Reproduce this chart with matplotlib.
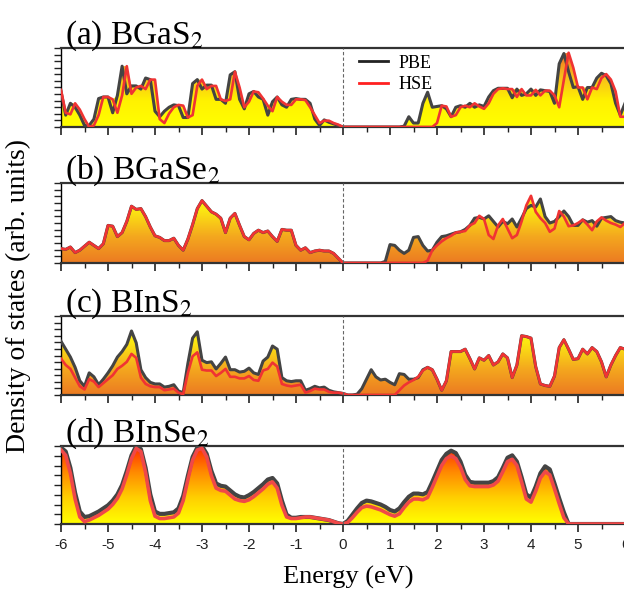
import matplotlib
matplotlib.use("Agg")
import matplotlib.pyplot as plt
from matplotlib.colors import LinearSegmentedColormap
import numpy as np


# energy grid (eV), one value every 0.1 eV from -6 to 6
energy = np.round(np.arange(-6.0, 6.05, 0.1), 1)

# (a) BGaS2
bgas2_pbe = [
    0.45, 0.15, 0.30, 0.25, 0.15, 0.02, 0.02, 0.10, 0.36, 0.38,
    0.38, 0.18, 0.40, 0.77, 0.42, 0.52, 0.52, 0.48, 0.62, 0.60,
    0.20, 0.13, 0.20, 0.25, 0.28, 0.27, 0.12, 0.12, 0.55, 0.60,
    0.48, 0.53, 0.53, 0.35, 0.35, 0.30, 0.66, 0.70, 0.35, 0.23,
    0.42, 0.45, 0.38, 0.35, 0.15, 0.32, 0.38, 0.28, 0.25, 0.35,
    0.36, 0.35, 0.35, 0.30, 0.10, 0.02, 0.09, 0.06, 0.04, 0.02,
    0.00, 0.00, 0.00, 0.00, 0.00, 0.00, 0.00, 0.00, 0.00, 0.00,
    0.00, 0.00, 0.00, 0.01, 0.13, 0.05, 0.05, 0.30, 0.44, 0.25,
    0.26, 0.27, 0.23, 0.13, 0.25, 0.27, 0.25, 0.30, 0.25, 0.28,
    0.26, 0.38, 0.46, 0.49, 0.49, 0.49, 0.37, 0.48, 0.40, 0.42,
    0.48, 0.40, 0.47, 0.46, 0.45, 0.30, 0.80, 0.93, 0.70, 0.50,
    0.51, 0.35, 0.50, 0.50, 0.62, 0.68, 0.65, 0.55, 0.30, 0.15,
    0.30,
]
bgas2_hse = [
    0.47, 0.18, 0.16, 0.30, 0.22, 0.10, 0.00, 0.02, 0.15, 0.38,
    0.38, 0.35, 0.18, 0.40, 0.77, 0.42, 0.50, 0.52, 0.48, 0.60,
    0.60, 0.10, 0.05, 0.17, 0.25, 0.28, 0.27, 0.12, 0.15, 0.52,
    0.60, 0.48, 0.52, 0.52, 0.35, 0.33, 0.35, 0.70, 0.50, 0.25,
    0.32, 0.45, 0.44, 0.36, 0.27, 0.20, 0.38, 0.32, 0.28, 0.28,
    0.35, 0.35, 0.34, 0.25, 0.15, 0.05, 0.08, 0.08, 0.05, 0.03,
    0.00, 0.00, 0.00, 0.00, 0.00, 0.00, 0.00, 0.00, 0.00, 0.00,
    0.00, 0.00, 0.00, 0.00, 0.00, 0.00, 0.00, 0.00, 0.00, 0.00,
    0.05, 0.27, 0.26, 0.13, 0.15, 0.25, 0.27, 0.25, 0.30, 0.26,
    0.23, 0.30, 0.42, 0.48, 0.49, 0.48, 0.48, 0.38, 0.48, 0.40,
    0.40, 0.47, 0.40, 0.46, 0.46, 0.40, 0.25, 0.60, 0.94, 0.75,
    0.50, 0.50, 0.35, 0.50, 0.48, 0.62, 0.67, 0.60, 0.45, 0.13,
    0.13,
]

# (b) BGaSe2
bgase2_pbe = [
    0.18, 0.17, 0.20, 0.13, 0.16, 0.21, 0.26, 0.22, 0.18, 0.24,
    0.47, 0.46, 0.33, 0.38, 0.52, 0.71, 0.67, 0.68, 0.58, 0.45,
    0.34, 0.32, 0.28, 0.28, 0.31, 0.22, 0.16, 0.30, 0.48, 0.68,
    0.78, 0.71, 0.64, 0.61, 0.56, 0.38, 0.56, 0.62, 0.47, 0.33,
    0.29, 0.37, 0.41, 0.38, 0.40, 0.33, 0.27, 0.42, 0.41, 0.41,
    0.22, 0.16, 0.19, 0.13, 0.15, 0.16, 0.15, 0.15, 0.12, 0.06,
    0.00, 0.00, 0.00, 0.00, 0.00, 0.00, 0.00, 0.00, 0.00, 0.02,
    0.23, 0.22, 0.16, 0.12, 0.16, 0.32, 0.33, 0.22, 0.15, 0.16,
    0.26, 0.33, 0.34, 0.36, 0.38, 0.39, 0.42, 0.47, 0.56, 0.57,
    0.55, 0.59, 0.52, 0.45, 0.52, 0.49, 0.55, 0.45, 0.56, 0.68,
    0.72, 0.70, 0.80, 0.58, 0.50, 0.52, 0.58, 0.65, 0.58, 0.47,
    0.47, 0.54, 0.51, 0.53, 0.46, 0.56, 0.57, 0.58, 0.53, 0.51,
    0.50,
]
bgase2_hse = [
    0.18, 0.17, 0.20, 0.13, 0.16, 0.21, 0.26, 0.22, 0.18, 0.24,
    0.47, 0.46, 0.33, 0.38, 0.52, 0.71, 0.67, 0.68, 0.58, 0.45,
    0.34, 0.32, 0.28, 0.28, 0.31, 0.22, 0.16, 0.30, 0.48, 0.68,
    0.78, 0.71, 0.64, 0.61, 0.56, 0.38, 0.56, 0.62, 0.47, 0.33,
    0.29, 0.37, 0.41, 0.38, 0.40, 0.33, 0.27, 0.42, 0.41, 0.41,
    0.22, 0.16, 0.19, 0.13, 0.15, 0.16, 0.15, 0.15, 0.12, 0.06,
    0.00, 0.00, 0.00, 0.00, 0.00, 0.00, 0.00, 0.00, 0.00, 0.00,
    0.00, 0.00, 0.00, 0.00, 0.00, 0.00, 0.00, 0.00, 0.03, 0.16,
    0.22, 0.27, 0.31, 0.34, 0.38, 0.39, 0.40, 0.47, 0.50, 0.59,
    0.55, 0.35, 0.30, 0.47, 0.55, 0.43, 0.31, 0.35, 0.52, 0.72,
    0.84, 0.64, 0.56, 0.50, 0.39, 0.43, 0.65, 0.58, 0.46, 0.47,
    0.50, 0.54, 0.48, 0.41, 0.52, 0.57, 0.53, 0.50, 0.48, 0.45,
    0.50,
]

# (c) BInS2
bins2_pbe = [
    0.68, 0.58, 0.48, 0.35, 0.18, 0.11, 0.28, 0.23, 0.13, 0.20,
    0.28, 0.37, 0.48, 0.55, 0.64, 0.81, 0.66, 0.32, 0.22, 0.16,
    0.14, 0.14, 0.10, 0.11, 0.13, 0.05, 0.03, 0.40, 0.72, 0.80,
    0.44, 0.41, 0.42, 0.33, 0.40, 0.48, 0.32, 0.32, 0.29, 0.30,
    0.34, 0.28, 0.26, 0.43, 0.48, 0.62, 0.58, 0.22, 0.18, 0.17,
    0.18, 0.18, 0.06, 0.08, 0.11, 0.09, 0.10, 0.06, 0.04, 0.03,
    0.02, 0.00, 0.00, 0.01, 0.08, 0.20, 0.32, 0.23, 0.19, 0.20,
    0.16, 0.13, 0.27, 0.26, 0.20, 0.20, 0.22, 0.32, 0.35, 0.32,
    0.20, 0.06, 0.18, 0.55, 0.55, 0.55, 0.58, 0.46, 0.33, 0.47,
    0.44, 0.50, 0.38, 0.42, 0.52, 0.47, 0.22, 0.38, 0.75, 0.74,
    0.72, 0.36, 0.14, 0.12, 0.11, 0.24, 0.60, 0.70, 0.58, 0.45,
    0.46, 0.58, 0.52, 0.60, 0.55, 0.42, 0.23, 0.38, 0.50, 0.60,
    0.58,
]
bins2_hse = [
    0.46, 0.38, 0.33, 0.22, 0.11, 0.07, 0.20, 0.17, 0.10, 0.15,
    0.20, 0.25, 0.33, 0.37, 0.42, 0.52, 0.47, 0.22, 0.14, 0.11,
    0.10, 0.10, 0.06, 0.07, 0.08, 0.03, 0.01, 0.28, 0.49, 0.54,
    0.32, 0.31, 0.31, 0.24, 0.28, 0.33, 0.23, 0.23, 0.21, 0.21,
    0.24, 0.19, 0.18, 0.31, 0.33, 0.41, 0.36, 0.14, 0.12, 0.11,
    0.12, 0.13, 0.03, 0.05, 0.08, 0.07, 0.07, 0.04, 0.03, 0.03,
    0.02, 0.00, 0.00, 0.00, 0.00, 0.00, 0.00, 0.00, 0.00, 0.00,
    0.00, 0.00, 0.06, 0.12, 0.16, 0.19, 0.23, 0.31, 0.35, 0.32,
    0.20, 0.06, 0.18, 0.55, 0.55, 0.55, 0.58, 0.46, 0.33, 0.47,
    0.44, 0.50, 0.38, 0.42, 0.52, 0.47, 0.22, 0.38, 0.75, 0.74,
    0.72, 0.36, 0.14, 0.12, 0.11, 0.24, 0.60, 0.70, 0.58, 0.45,
    0.46, 0.58, 0.52, 0.60, 0.55, 0.42, 0.23, 0.38, 0.50, 0.60,
    0.58,
]

# (d) BInSe2
binse2_pbe = [
    0.98, 0.93, 0.72, 0.40, 0.16, 0.09, 0.10, 0.13, 0.16, 0.20,
    0.24, 0.30, 0.38, 0.50, 0.68, 0.88, 1.00, 0.96, 0.72, 0.38,
    0.16, 0.13, 0.13, 0.14, 0.15, 0.20, 0.36, 0.62, 0.86, 0.98,
    1.00, 0.90, 0.68, 0.52, 0.49, 0.48, 0.43, 0.38, 0.35, 0.34,
    0.37, 0.41, 0.46, 0.51, 0.57, 0.59, 0.52, 0.30, 0.12, 0.08,
    0.08, 0.09, 0.09, 0.09, 0.08, 0.07, 0.06, 0.05, 0.03, 0.01,
    0.00, 0.04, 0.12, 0.20, 0.27, 0.30, 0.29, 0.27, 0.25, 0.22,
    0.18, 0.16, 0.20, 0.28, 0.35, 0.39, 0.39, 0.38, 0.41, 0.54,
    0.68, 0.82, 0.90, 0.94, 0.91, 0.80, 0.63, 0.54, 0.53, 0.53,
    0.53, 0.53, 0.55, 0.60, 0.72, 0.85, 0.88, 0.80, 0.60, 0.38,
    0.34, 0.48, 0.65, 0.74, 0.70, 0.52, 0.33, 0.15, 0.00, 0.00,
    0.00, 0.00, 0.00, 0.00, 0.00, 0.00, 0.00, 0.00, 0.00, 0.00,
    0.00,
]
binse2_hse = [
    0.95, 0.88, 0.65, 0.32, 0.09, 0.03, 0.05, 0.08, 0.11, 0.15,
    0.19, 0.25, 0.33, 0.45, 0.63, 0.84, 0.97, 0.93, 0.66, 0.30,
    0.10, 0.07, 0.07, 0.08, 0.09, 0.14, 0.30, 0.57, 0.82, 0.95,
    0.97, 0.86, 0.62, 0.46, 0.43, 0.42, 0.37, 0.32, 0.30, 0.29,
    0.31, 0.35, 0.40, 0.45, 0.51, 0.54, 0.46, 0.24, 0.09, 0.07,
    0.07, 0.08, 0.09, 0.09, 0.08, 0.07, 0.06, 0.05, 0.03, 0.01,
    0.00, 0.02, 0.08, 0.15, 0.21, 0.23, 0.22, 0.20, 0.18, 0.15,
    0.12, 0.10, 0.13, 0.21, 0.28, 0.32, 0.32, 0.31, 0.34, 0.47,
    0.61, 0.75, 0.84, 0.87, 0.84, 0.73, 0.57, 0.49, 0.48, 0.48,
    0.48, 0.48, 0.50, 0.55, 0.67, 0.80, 0.83, 0.75, 0.54, 0.32,
    0.28, 0.42, 0.59, 0.67, 0.63, 0.45, 0.26, 0.08, 0.00, 0.00,
    0.00, 0.00, 0.00, 0.00, 0.00, 0.00, 0.00, 0.00, 0.00, 0.00,
    0.00,
]

titles = [r"(a) BGaS$_2$", r"(b) BGaSe$_2$", r"(c) BInS$_2$", r"(d) BInSe$_2$"]
pbe_series = [bgas2_pbe, bgase2_pbe, bins2_pbe, binse2_pbe]
hse_series = [bgas2_hse, bgase2_hse, bins2_hse, binse2_hse]

# gradient colours of the fills, bottom -> top
fill_colors = [
    ["#FFFF00", "#FFF200", "#F7B81E", "#EE5A22"],
    ["#EC7A22", "#F4A81E", "#FCE812", "#FFFF00"],
    ["#EC7A22", "#F4A81E", "#FCE812", "#FFFF00"],
    ["#FFFF00", "#FFD000", "#FF8A00", "#FF2A00"],
]
ytick_count = [12, 12, 12, 8]

# axes rectangles in pixels (top, bottom) of a 624x592 figure
panel_rows = [(48, 127), (183, 263), (316, 395), (446, 524)]

plt.rcParams["font.family"] = ["Liberation Serif", "DejaVu Serif"]
plt.rcParams["mathtext.fontset"] = "stix"
plt.rcParams["axes.unicode_minus"] = False

W, H = 624, 592
fig = plt.figure(figsize=(W / 100, H / 100), dpi=100)


def gradient_fill(ax, x, y, colors):
    poly = ax.fill_between(x, 0, y, facecolor="none", edgecolor="none")
    path = poly.get_paths()[0]
    cmap = LinearSegmentedColormap.from_list("g", colors)
    grad = np.linspace(0, 1, 256).reshape(-1, 1)
    im = ax.imshow(grad, cmap=cmap, aspect="auto", origin="lower",
                   extent=[x[0], x[-1], 0, 1], zorder=1, interpolation="bilinear")
    im.set_clip_path(path, transform=ax.transData)


axes = []
for i, (top, bottom) in enumerate(panel_rows):
    ax = fig.add_axes([61 / W, 1 - bottom / H, 564 / W, (bottom - top) / H])
    axes.append(ax)
    pbe = np.array(pbe_series[i])
    hse = np.array(hse_series[i])
    assert len(pbe) == len(energy) and len(hse) == len(energy)

    gradient_fill(ax, energy, np.maximum(pbe, hse), fill_colors[i])
    lw_scale = 1.35 if i == 3 else 1.0
    ax.plot(energy, pbe, color="#444444", lw=2.2 * lw_scale, zorder=3,
            solid_joinstyle="round")
    red = "#F04848" if i == 3 else "#F03333"
    ax.plot(energy, hse, color=red, lw=1.9 * lw_scale, zorder=4,
            solid_joinstyle="round")
    ax.axvline(0, color="#666666", lw=0.8, ls=(0, (3, 2)), zorder=5)

    ax.set_xlim(-6, 6)
    ax.set_ylim(0, 1)
    ax.set_xticks(np.arange(-6, 7, 1))
    ax.set_xticks(np.arange(-5.5, 6, 1), minor=True)
    ax.set_yticks(np.linspace(0, 1, ytick_count[i] + 1))
    ax.set_yticklabels([])
    ax.tick_params(axis="x", which="major", direction="out", length=6,
                   width=1.2, colors="#222222", labelbottom=(i == 3),
                   labelsize=11, pad=4)
    ax.tick_params(axis="x", which="minor", direction="out", length=3.5,
                   width=1.0, colors="#222222")
    ax.tick_params(axis="y", direction="out", length=5, width=1.0,
                   colors="#222222")
    for lab in ax.get_xticklabels():
        lab.set_family("Liberation Sans")
    for side in ["top", "bottom"]:
        ax.spines[side].set_linewidth(1.6)
        ax.spines[side].set_color("#333333")
    ax.spines["left"].set_linewidth(1.0)
    ax.spines["right"].set_linewidth(1.0)
    ax.spines["right"].set_color("#999999")

    ax.text(0.007, 1.05, titles[i], transform=ax.transAxes, fontsize=24,
            ha="left", va="baseline")

    if i == 0:
        h1, = ax.plot([], [], color="#222222", lw=2.0, label="PBE")
        h2, = ax.plot([], [], color="#FF2020", lw=2.0, label="HSE")
        ax.legend(handles=[h1, h2], loc="upper left", bbox_to_anchor=(0.5, 1.12),
                  frameon=False, fontsize=13, handlelength=1.6,
                  handletextpad=0.6, labelspacing=0.25)

fig.text(0.029, 0.5, "Density of states (arb. units)", rotation=90,
         ha="center", va="center", fontsize=20)
fig.text(0.558, 0.024, "Energy (eV)", ha="center", va="center", fontsize=19)

fig.savefig("out.png", dpi=100)
